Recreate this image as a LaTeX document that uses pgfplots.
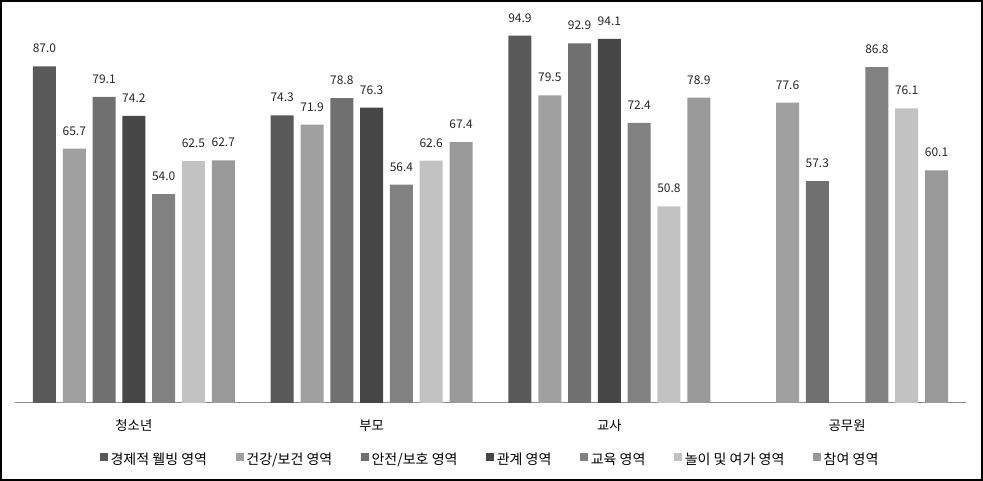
\documentclass[border=0pt]{standalone}
\usepackage{fontspec}
\setmainfont{Noto Sans CJK KR}
\usepackage{pgfplots}
\pgfplotsset{compat=1.18}
\definecolor{c1}{HTML}{595959}
\definecolor{c2}{HTML}{A0A0A0}
\definecolor{c3}{HTML}{707070}
\definecolor{c4}{HTML}{464646}
\definecolor{c5}{HTML}{818181}
\definecolor{c6}{HTML}{C2C2C2}
\definecolor{c7}{HTML}{999999}
\newcommand{\px}{0.75pt}
\begin{document}
\begin{tikzpicture}
\path[use as bounding box] (0,0) rectangle (983*\px,481*\px);
\draw[line width=1.5*\px] (1*\px,1*\px) rectangle (982*\px,480*\px);
\begin{axis}[
  at={(15*\px,78*\px)}, anchor=south west,
  scale only axis, width=951*\px, height=387*\px,
  xmin=-0.5, xmax=3.5, ymin=0, ymax=100,
  axis y line=none,
  axis x line*=bottom,
  x axis line style={draw=black!45, line width=1*\px, -},
  xtick={0,1,2,3},
  xticklabels={청소년,부모,교사,공무원},
  major tick length=0pt,
  xticklabel style={font=\fontsize{10}{12}\selectfont, anchor=center, yshift=-17pt},
  ybar=5.1pt, bar width=17.25pt,
  /pgf/number format/assume math mode=true,
  nodes near coords,
  point meta=y,
  nodes near coords style={font=\fontsize{9}{10}\selectfont, anchor=south, yshift=6.5pt, text=black!85,
    /pgf/number format/.cd, fixed, fixed zerofill, precision=1, assume math mode=true},
  legend columns=7,
  legend style={at={(0.5,-0.147)}, anchor=center, draw=none, fill=none,
    font=\fontsize{10.5}{12}\selectfont, inner xsep=0pt,
    /tikz/every even column/.append style={column sep=19.5pt},
    /tikz/every odd column/.append style={column sep=0pt}},
  legend image code/.code={\fill[#1] (0pt,-0.5pt) rectangle (6pt,5.5pt);},
]
\addplot[fill=c1, draw=none] coordinates {(0,87.0) (1,74.3) (2,94.9)};
\addplot[fill=c2, draw=none] coordinates {(0,65.7) (1,71.9) (2,79.5) (3,77.6)};
\addplot[fill=c3, draw=none] coordinates {(0,79.1) (1,78.8) (2,92.9) (3,57.3)};
\addplot[fill=c4, draw=none] coordinates {(0,74.2) (1,76.3) (2,94.1)};
\addplot[fill=c5, draw=none] coordinates {(0,54.0) (1,56.4) (2,72.4) (3,86.8)};
\addplot[fill=c6, draw=none] coordinates {(0,62.5) (1,62.6) (2,50.8) (3,76.1)};
\addplot[fill=c7, draw=none] coordinates {(0,62.7) (1,67.4) (2,78.9) (3,60.1)};
\legend{경제적 웰빙 영역,건강/보건 영역,안전/보호 영역,관계 영역,교육 영역,놀이 및 여가 영역,참여 영역}
\end{axis}
\end{tikzpicture}
\end{document}
